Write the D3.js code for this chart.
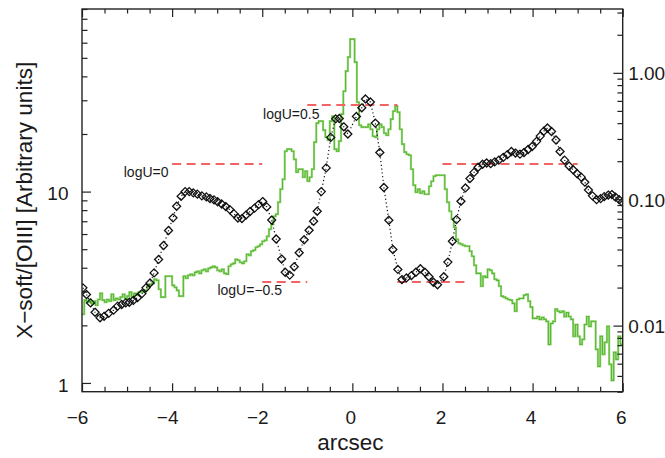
<!DOCTYPE html>
<html><head><meta charset="utf-8">
<script src="https://cdn.jsdelivr.net/npm/d3@7"></script>
<style>
body{margin:0;background:#fff;}
text{font-family:"Liberation Sans",Arial,Helvetica,sans-serif;fill:#1a1a1a;}
</style></head>
<body><svg id="c" width="665" height="458"></svg>
<script>
// ---------------- data ----------------
const xTicks = [-6,-4,-2,0,2,4,6];
const xMinorTicks = [-5.5,-5,-4.5,-3.5,-3,-2.5,-1.5,-1,-0.5,0.5,1,1.5,2.5,3,3.5,4.5,5,5.5];
const leftTicks = [1,10];
const leftTickLabels = ["1","10"];
const leftMinorTicks = [2,3,4,5,6,7,8,9,20,30,40,50,60,70,80,90];
const rightTicks = [0.01,0.1,1];
const rightTickLabels = ["0.01","0.10","1.00"];
const rightMinorTicks = [0.003,0.004,0.005,0.006,0.007,0.008,0.009,0.02,0.03,0.04,0.05,0.06,0.07,0.08,0.09,0.2,0.3,0.4,0.5,0.6,0.7,0.8,0.9,2,3];

// green histogram (right axis), bins of 0.05 arcsec starting at -6
const greenStart = -6, greenStep = 0.05;
const greenVals = [
0.0123,0.0159,0.0153,0.0161,0.0150,0.0156,0.0145,0.0161,0.0180,0.0159,
0.0153,0.0161,0.0156,0.0177,0.0159,0.0164,0.0161,0.0168,0.0177,0.0164,
0.0171,0.0184,0.0168,0.0180,0.0174,0.0184,0.0187,0.0184,0.0190,0.0205,
0.0212,0.0216,0.0233,0.0228,0.0194,0.0168,0.0168,0.0246,0.0246,0.0246,
0.0208,0.0201,0.0190,0.0171,0.0171,0.0246,0.0237,0.0250,0.0255,0.0250,
0.0264,0.0269,0.0259,0.0274,0.0279,0.0269,0.0284,0.0289,0.0295,0.0289,
0.0274,0.0269,0.0279,0.0259,0.0255,0.0295,0.0306,0.0311,0.0335,0.0329,
0.0317,0.0311,0.0323,0.0367,0.0360,0.0388,0.0395,0.0417,0.0425,0.0440,
0.0465,0.0473,0.0509,0.0579,0.0634,0.0733,0.0761,0.0947,0.1200,0.1440,
0.240,0.249,0.249,0.240,0.207,0.1636,0.1728,0.1728,0.1493,0.1666,
0.1388,0.1493,0.1728,0.283,0.400,0.415,0.415,0.352,0.310,0.293,
0.415,0.454,0.249,0.240,0.288,0.471,0.716,1.031,1.331,1.848,
1.848,1.215,0.586,0.385,0.372,0.372,0.372,0.392,0.358,0.315,
0.310,0.358,0.392,0.372,0.333,0.321,0.358,0.430,0.497,0.545,
0.488,0.358,0.273,0.236,0.227,0.223,0.1728,0.1291,0.1136,0.1200,
0.1115,0.1157,0.1095,0.1095,0.1267,0.1388,0.1521,0.1549,0.1549,0.1549,
0.1549,0.1200,0.0947,0.0803,0.0695,0.0600,0.0482,0.0448,0.0440,0.0432,
0.0425,0.0425,0.0388,0.0354,0.0300,0.0259,0.0259,0.0205,0.0246,0.0241,
0.0279,0.0274,0.0259,0.0233,0.0228,0.0205,0.0171,0.0168,0.0164,0.0161,
0.0159,0.0150,0.0130,0.0161,0.0164,0.0164,0.0174,0.0177,0.0156,0.0140,
0.0114,0.0114,0.0118,0.0112,0.0116,0.0112,0.0108,0.00711,0.0104,0.0108,
0.0135,0.0130,0.0127,0.0130,0.0118,0.0127,0.0118,0.0112,0.00823,0.0102,
0.00823,0.00711,0.00779,0.0102,0.0118,0.00987,0.0108,0.0108,0.00649,0.00476,
0.00823,0.00593,0.00738,0.00987,0.00494,0.00369,0.00614,0.00541,0.00823,0.00711
];

// diamonds (left axis)
const diamondX = [
-5.98,-5.90,-5.81,-5.71,-5.60,-5.51,-5.41,-5.30,-5.21,-5.12,
-5.03,-4.95,-4.86,-4.77,-4.67,-4.58,-4.49,-4.40,-4.30,-4.19,
-4.08,-3.98,-3.90,-3.80,-3.71,-3.62,-3.53,-3.44,-3.34,-3.24,
-3.16,-3.07,-2.99,-2.90,-2.81,-2.72,-2.63,-2.54,-2.45,-2.36,
-2.27,-2.17,-2.08,-1.99,-1.90,-1.79,-1.69,-1.57,-1.49,-1.39,
-1.29,-1.18,-1.07,-0.96,-0.86,-0.78,-0.69,-0.58,-0.48,-0.37,
-0.29,-0.19,-0.10,0.09,0.21,0.29,0.40,0.51,0.61,0.70,
0.81,0.90,1.01,1.10,1.20,1.31,1.41,1.51,1.61,1.70,
1.80,1.89,2.03,2.12,2.22,2.31,2.41,2.51,2.61,2.70,
2.79,2.89,2.98,3.07,3.16,3.25,3.35,3.44,3.53,3.62,
3.72,3.81,3.90,3.99,4.09,4.17,4.25,4.33,4.42,4.52,
4.61,4.71,4.81,4.90,4.99,5.08,5.16,5.24,5.33,5.42,
5.51,5.59,5.68,5.76,5.84,5.92,5.99
];
const diamondY = [
3.14,2.90,2.62,2.34,2.19,2.23,2.31,2.40,2.52,2.57,
2.62,2.64,2.70,2.79,2.93,3.14,3.33,3.76,4.42,5.23,
6.26,7.29,8.38,9.45,10.0,10.0,9.85,9.70,9.50,9.38,
9.20,9.05,8.85,8.61,8.35,8.05,7.67,7.28,7.23,7.54,
7.87,8.20,8.55,8.87,8.32,7.10,5.65,4.44,3.79,3.66,
4.05,4.79,5.60,6.28,7.00,7.89,10.0,13.3,19.2,24.0,
24.1,21.8,20.0,24.7,27.4,30.5,29.4,22.8,16.0,10.5,
7.08,4.98,3.92,3.47,3.54,3.64,3.79,3.95,3.79,3.59,
3.36,3.26,3.59,4.28,5.50,7.14,8.90,10.45,11.7,12.6,
13.4,13.9,14.1,14.0,14.3,14.6,15.1,15.6,16.2,15.9,
15.7,16.0,16.6,17.2,18.3,19.5,20.7,21.5,20.6,18.6,
16.2,14.6,13.6,13.0,12.4,11.9,11.2,10.2,9.50,9.08,
9.19,9.41,9.59,9.65,9.36,9.08,8.81
];

// logU model levels (left axis)
const logULabels = ["logU=0.5","logU=0","logU=\u22120.5"];
const logUValues = [28.3, 14.0, 3.38];
const logUSegments = [[[-1,1]], [[-4,-2],[2,5]], [[-2,-1],[1,2.5]]];
const logULabelX = [-0.73, -4.08, -1.56];

// ---------------- drawing ----------------
const svg = d3.select("#c");
const box = {l:82, r:622.7, t:9, b:391.7};
const x = d3.scaleLinear().domain([-6,6]).range([box.l, box.r]);
const yL = d3.scaleLog().domain([0.9,90]).range([box.b, box.t]);
const yR = d3.scaleLog().domain([0.003,3.2]).range([box.b, box.t]);
const axisColor = "#222";

svg.append("defs").append("clipPath").attr("id","plot")
  .append("rect").attr("x",box.l).attr("y",box.t)
  .attr("width",box.r-box.l).attr("height",box.b-box.t);

const plot = svg.append("g").attr("clip-path","url(#plot)");

// green step histogram
const greenPts = greenVals.map((v,i)=>[greenStart+greenStep*i, v]);
greenPts.push([greenStart+greenStep*greenVals.length, greenVals[greenVals.length-1]]);
const gLine = d3.line().x(d=>x(d[0])).y(d=>yR(d[1])).curve(d3.curveStepAfter);
plot.append("path").attr("d",gLine(greenPts)).attr("fill","none")
  .attr("stroke","#a6dc8c").attr("stroke-width",2.2);
plot.append("path").attr("d",gLine(greenPts)).attr("fill","none")
  .attr("stroke","#58b832").attr("stroke-width",1.1);

// logU dashed lines
logUValues.forEach((v,k)=>{
  const yy = Math.round(yL(v));
  logUSegments[k].forEach(seg=>{
    plot.append("line")
      .attr("x1",x(seg[0])).attr("x2",x(seg[1]))
      .attr("y1",yy).attr("y2",yy)
      .attr("stroke","#f26464").attr("stroke-width",2)
      .attr("stroke-dasharray","9,5.5");
  });
  svg.append("text").attr("x",x(logULabelX[k])).attr("y",yL(v)+13.5)
    .attr("text-anchor","end").attr("font-size",14).text(logULabels[k]);
});

// diamonds with dotted connecting line
const dPts = diamondX.map((d,i)=>[d, diamondY[i]]);
plot.append("path")
  .attr("d", d3.line().x(d=>x(d[0])).y(d=>yL(d[1]))(dPts))
  .attr("fill","none").attr("stroke","#111").attr("stroke-width",1.2)
  .attr("stroke-dasharray","1.2,2.6");
plot.selectAll("path.dm").data(dPts).enter().append("path")
  .attr("class","dm")
  .attr("d","M0,-4L4,0L0,4L-4,0Z")
  .attr("transform",d=>`translate(${x(d[0])},${yL(d[1])})`)
  .attr("fill","none").attr("stroke","#111").attr("stroke-width",1.3);

// axes
function styleAxis(g){
  g.select(".domain").remove();
  g.selectAll(".tick line").attr("stroke",axisColor).attr("stroke-width",1.2);
}
const fontTick = 19;
// bottom
const gb = svg.append("g").attr("transform",`translate(0,${box.b})`)
  .call(d3.axisBottom(x).tickValues(xTicks).tickSizeInner(-8.5).tickSizeOuter(0).tickPadding(19));
styleAxis(gb);
gb.selectAll("text").attr("font-size",fontTick).attr("fill","#1a1a1a")
  .attr("font-family","Liberation Sans, Arial, sans-serif")
  .attr("dx",d=>d<0?-5:-2);
svg.append("g").attr("transform",`translate(0,${box.b})`)
  .call(d3.axisBottom(x).tickValues(xMinorTicks).tickSizeInner(-5).tickSizeOuter(0).tickFormat(""))
  .call(styleAxis);
// top
svg.append("g").attr("transform",`translate(0,${box.t})`)
  .call(d3.axisTop(x).tickValues(xTicks).tickSizeInner(-8).tickSizeOuter(0).tickFormat(""))
  .call(styleAxis);
svg.append("g").attr("transform",`translate(0,${box.t})`)
  .call(d3.axisTop(x).tickValues(xMinorTicks).tickSizeInner(-4.5).tickSizeOuter(0).tickFormat(""))
  .call(styleAxis);
// left
const gl = svg.append("g").attr("transform",`translate(${box.l},0)`)
  .call(d3.axisLeft(yL).tickValues(leftTicks).tickSizeInner(-9).tickSizeOuter(0).tickPadding(13.5)
    .tickFormat((d,i)=>leftTickLabels[i]));
styleAxis(gl);
gl.selectAll("text").attr("font-size",fontTick).attr("fill","#1a1a1a")
  .attr("font-family","Liberation Sans, Arial, sans-serif").attr("dy","0.43em");
svg.append("g").attr("transform",`translate(${box.l},0)`)
  .call(d3.axisLeft(yL).tickValues(leftMinorTicks).tickSizeInner(-5.5).tickSizeOuter(0).tickFormat(""))
  .call(styleAxis);
// right
const gr = svg.append("g").attr("transform",`translate(${box.r},0)`)
  .call(d3.axisRight(yR).tickValues(rightTicks).tickSizeInner(-9.3).tickSizeOuter(0).tickPadding(5.5)
    .tickFormat((d,i)=>rightTickLabels[i]));
styleAxis(gr);
gr.selectAll("text").attr("font-size",fontTick).attr("fill","#1a1a1a")
  .attr("font-family","Liberation Sans, Arial, sans-serif").attr("dy","0.36em");
svg.append("g").attr("transform",`translate(${box.r},0)`)
  .call(d3.axisRight(yR).tickValues(rightMinorTicks).tickSizeInner(-5.3).tickSizeOuter(0).tickFormat(""))
  .call(styleAxis);

// frame
svg.append("rect").attr("x",box.l).attr("y",box.t)
  .attr("width",box.r-box.l).attr("height",box.b-box.t)
  .attr("fill","none").attr("stroke",axisColor).attr("stroke-width",1.4);

// titles
svg.append("text").attr("x",(box.l+box.r)/2-2).attr("y",450)
  .attr("text-anchor","middle").attr("font-size",22.5).text("arcsec");
svg.append("text").attr("transform",`translate(32,${(box.t+box.b)/2}) rotate(-90)`)
  .attr("text-anchor","middle").attr("font-size",22.5).text("X\u2212soft/[OIII] [Arbitrary units]");
</script>
</body></html>
